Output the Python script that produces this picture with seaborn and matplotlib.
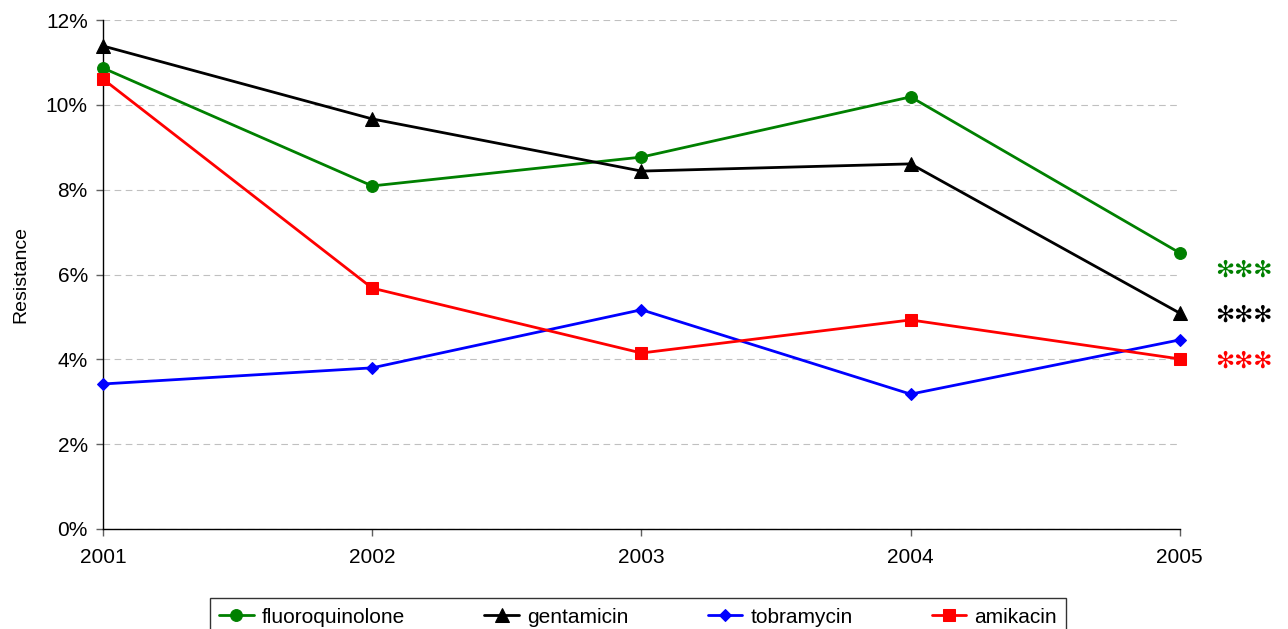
import numpy as np
import pandas as pd
import matplotlib
matplotlib.use("Agg")
import matplotlib.pyplot as plt
from matplotlib.ticker import PercentFormatter
import seaborn as sns

# Data (resistance, %)
YEARS           = [2001, 2002, 2003, 2004, 2005]
FLUOROQUINOLONE = [10.87, 8.09, 8.77, 10.19, 6.51]
GENTAMICIN      = [11.39, 9.67, 8.44, 8.61, 5.09]
TOBRAMYCIN      = [3.42, 3.80, 5.17, 3.18, 4.46]
AMIKACIN        = [10.61, 5.68, 4.15, 4.93, 4.01]

SERIES  = ["fluoroquinolone", "gentamicin", "tobramycin", "amikacin"]
COLORS  = ["#008000", "#000000", "#0000ff", "#ff0000"]
MARKERS = ["o", "^", "D", "s"]
MSIZES  = [8.5, 9.5, 6.5, 8.5]
SIGNIF  = ["***", "***", None, "***"]


def main():
    sns.set_theme(style="white")
    plt.rcParams["font.family"] = ["Liberation Sans", "DejaVu Sans"]
    for key in ["text.color", "axes.labelcolor", "xtick.color", "ytick.color"]:
        plt.rcParams[key] = "black"

    df = pd.DataFrame({
        "year": YEARS * 4,
        "value": FLUOROQUINOLONE + GENTAMICIN + TOBRAMYCIN + AMIKACIN,
        "drug": np.repeat(SERIES, len(YEARS)),
    })

    fig = plt.figure(figsize=(12.88, 6.29), dpi=100)
    ax = fig.add_axes([0.080, 0.159, 0.836, 0.809])

    for name, color, marker, ms in zip(SERIES, COLORS, MARKERS, MSIZES):
        sub = df[df["drug"] == name]
        sns.lineplot(data=sub, x="year", y="value", color=color,
                     marker=marker, markersize=ms, markeredgecolor=color,
                     linewidth=2, label=name, ax=ax, zorder=3, clip_on=False)

    ax.set_xlim(2001, 2005)
    ax.set_ylim(0, 12)
    ax.set_xticks(YEARS)
    ax.set_yticks(range(0, 13, 2))
    ax.yaxis.set_major_formatter(PercentFormatter(decimals=0))
    ax.grid(axis="y", color="#c0c0c0", linestyle=(0, (6, 4)), linewidth=0.8)
    ax.set_axisbelow(True)
    for side in ["top", "right"]:
        ax.spines[side].set_visible(False)
    for side in ["left", "bottom"]:
        ax.spines[side].set_color("black")
        ax.spines[side].set_linewidth(1)
    ax.tick_params(axis="both", which="both", direction="out", length=5,
                   width=1, color="#606060", labelsize=15, pad=6,
                   bottom=True, left=True)
    ax.tick_params(axis="x", pad=9)
    ax.set_xlabel("")
    ax.set_ylabel("Resistance", fontsize=14, labelpad=12)

    # significance stars next to the 2005 end points
    star_y = {0: 6.1, 1: 5.05, 3: 3.95}
    for i, (sig, color) in enumerate(zip(SIGNIF, COLORS)):
        if sig is None:
            continue
        ax.text(1.033, star_y[i] / 12, "\u273b\u273b\u273b", transform=ax.transAxes,
                color=color, fontsize=16.5, fontweight="bold", ha="left",
                va="center", family=["DejaVu Sans"], clip_on=False)

    leg = ax.legend(loc="upper center", bbox_to_anchor=(0.497, -0.136),
                    borderaxespad=0, ncol=4, frameon=True, fontsize=15,
                    handlelength=1.65, handletextpad=0.4, columnspacing=3.8,
                    borderpad=0.45, fancybox=False)
    leg.get_frame().set_edgecolor("black")
    leg.get_frame().set_linewidth(1)

    fig.savefig("out.png", dpi=100)
    plt.close(fig)


if __name__ == "__main__":
    main()
